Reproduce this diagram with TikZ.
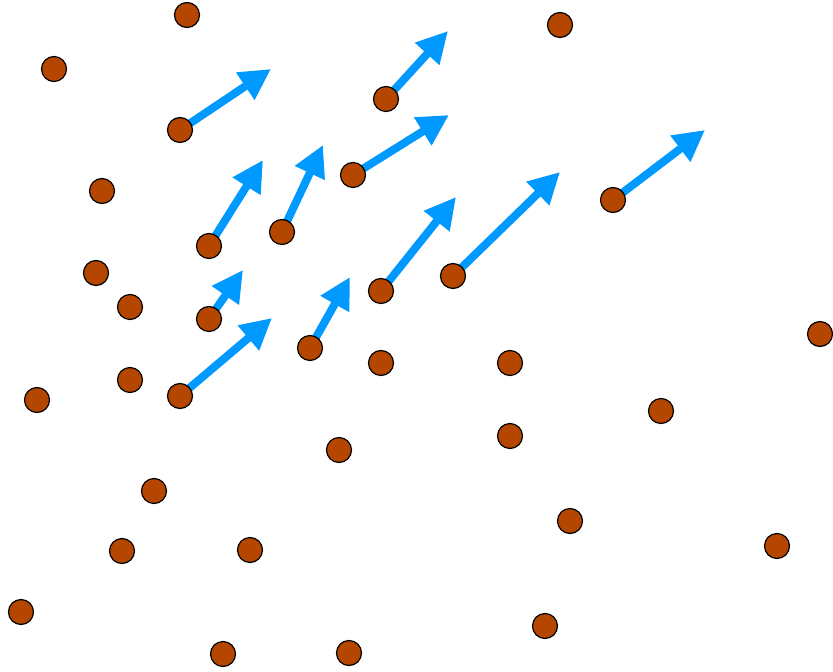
\documentclass[tikz,border=0pt]{standalone}
\usetikzlibrary{arrows.meta,backgrounds}
\definecolor{dotfill}{RGB}{180,70,0}
\definecolor{arrblue}{RGB}{0,153,255}
\begin{document}
\begin{tikzpicture}[x=1pt,y=-1pt,
  dot/.style={circle,draw=black,line width=1.2pt,fill=dotfill,minimum size=25pt,inner sep=0pt},
  vec/.style={draw=arrblue,line width=8pt,-{Triangle[length=31pt,width=31pt]}}]
\useasboundingbox (0,0) rectangle (833,672);
\foreach \n/\x/\y in {1/187/15,2/560/25,3/54/69,4/386/99,5/180/130,6/102/191,7/353/175,
  8/613/200,9/209/246,10/282/232,11/453/276,12/381/291,13/96/273,14/130/307,15/209/319,
  16/310/348,17/180/396,18/381/363,19/510/363,20/820/334,21/130/380,22/37/400,23/661/411,
  24/510/436,25/339/450,26/154/491,27/570/521,28/122/551,29/250/550,30/777/546,31/21/612,
  32/545/626,33/223/654,34/349/653}
  {\node[dot] (d\n) at (\x,\y) {};}
\coordinate (t4) at (448,31);
\coordinate (t5) at (271,69);
\coordinate (t7) at (449,115);
\coordinate (t8) at (705,130);
\coordinate (t9) at (263,160);
\coordinate (t10) at (323,145);
\coordinate (t11) at (560,172);
\coordinate (t12) at (456,197);
\coordinate (t15) at (243,270);
\coordinate (t16) at (350,277);
\coordinate (t17) at (272,318);
\begin{scope}[on background layer]
\foreach \n in {4,5,7,8,9,10,11,12,15,16,17}
  {\draw[vec] (d\n.center) -- (t\n);}
\end{scope}
\end{tikzpicture}
\end{document}
